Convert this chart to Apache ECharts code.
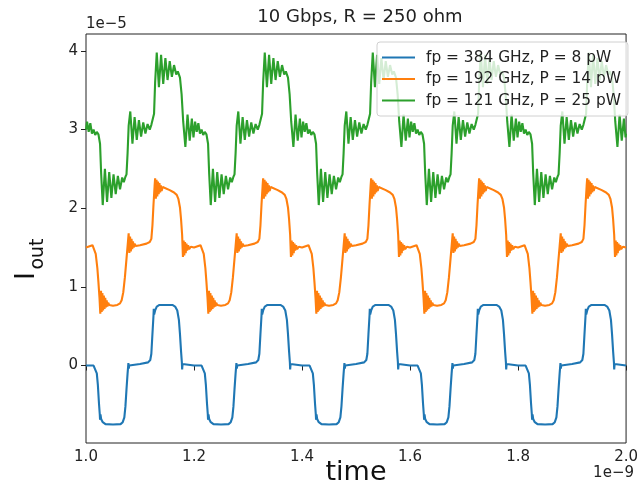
<!DOCTYPE html>
<html><head><meta charset="utf-8">
<script src="https://cdn.jsdelivr.net/npm/echarts@6/dist/echarts.min.js"></script>
<style>html,body{margin:0;padding:0;background:#fff}#c{width:641px;height:494px}</style>
</head><body><div id="c"></div>
<script>
const chartTitle = '10 Gbps, R = 250 ohm';
const seriesNames = ['fp = 384 GHz, P = 8 pW', 'fp = 192 GHz, P = 14 pW', 'fp = 121 GHz, P = 25 pW'];
const xTicks = [1.0, 1.2, 1.4, 1.6, 1.8, 2.0];
const xTickLabels = ['1.0', '1.2', '1.4', '1.6', '1.8', '2.0'];
const yTicks = [0, 1, 2, 3, 4];
const yTickLabels = ['0', '1', '2', '3', '4'];
const xRange = [1.0, 2.0];
const yRange = [-0.985, 4.215];

// time in units of 1e-9 s, current in units of 1e-5
const blue = [
[1.000,0.00],[1.014,0.00],[1.017,-0.02],[1.020,-0.10],[1.022,-0.25],[1.024,-0.48],[1.0255,-0.62],[1.026,-0.69],[1.0268,-0.62],[1.028,-0.68],[1.031,-0.72],[1.036,-0.745],[1.050,-0.75],[1.064,-0.745],[1.068,-0.72],[1.071,-0.66],[1.073,-0.52],[1.075,-0.30],[1.077,-0.10],[1.0785,0.03],[1.0792,-0.04],[1.080,0.00],[1.082,0.01],[1.100,0.02],[1.115,0.04],[1.119,0.07],[1.121,0.15],[1.123,0.40],[1.125,0.64],[1.1255,0.72],[1.1262,0.65],[1.128,0.70],[1.131,0.75],[1.136,0.77],[1.160,0.77],[1.165,0.75],[1.169,0.70],[1.172,0.58],[1.174,0.40],[1.176,0.18],[1.1775,0.04],[1.178,-0.05],[1.1788,0.02],[1.181,0.00],
[1.200,0.00],[1.214,0.00],[1.217,-0.02],[1.220,-0.10],[1.222,-0.25],[1.224,-0.48],[1.2255,-0.62],[1.226,-0.69],[1.2268,-0.62],[1.228,-0.68],[1.231,-0.72],[1.236,-0.745],[1.250,-0.75],[1.264,-0.745],[1.268,-0.72],[1.271,-0.66],[1.273,-0.52],[1.275,-0.30],[1.277,-0.10],[1.2785,0.03],[1.2792,-0.04],[1.280,0.00],[1.282,0.01],[1.300,0.02],[1.315,0.04],[1.319,0.07],[1.321,0.15],[1.323,0.40],[1.325,0.64],[1.3255,0.72],[1.3262,0.65],[1.328,0.70],[1.331,0.75],[1.336,0.77],[1.360,0.77],[1.365,0.75],[1.369,0.70],[1.372,0.58],[1.374,0.40],[1.376,0.18],[1.3775,0.04],[1.378,-0.05],[1.3788,0.02],[1.381,0.00],
[1.400,0.00],[1.414,0.00],[1.417,-0.02],[1.420,-0.10],[1.422,-0.25],[1.424,-0.48],[1.4255,-0.62],[1.426,-0.69],[1.4268,-0.62],[1.428,-0.68],[1.431,-0.72],[1.436,-0.745],[1.450,-0.75],[1.464,-0.745],[1.468,-0.72],[1.471,-0.66],[1.473,-0.52],[1.475,-0.30],[1.477,-0.10],[1.4785,0.03],[1.4792,-0.04],[1.480,0.00],[1.482,0.01],[1.500,0.02],[1.515,0.04],[1.519,0.07],[1.521,0.15],[1.523,0.40],[1.525,0.64],[1.5255,0.72],[1.5262,0.65],[1.528,0.70],[1.531,0.75],[1.536,0.77],[1.560,0.77],[1.565,0.75],[1.569,0.70],[1.572,0.58],[1.574,0.40],[1.576,0.18],[1.5775,0.04],[1.578,-0.05],[1.5788,0.02],[1.581,0.00],
[1.600,0.00],[1.614,0.00],[1.617,-0.02],[1.620,-0.10],[1.622,-0.25],[1.624,-0.48],[1.6255,-0.62],[1.626,-0.69],[1.6268,-0.62],[1.628,-0.68],[1.631,-0.72],[1.636,-0.745],[1.650,-0.75],[1.664,-0.745],[1.668,-0.72],[1.671,-0.66],[1.673,-0.52],[1.675,-0.30],[1.677,-0.10],[1.6785,0.03],[1.6792,-0.04],[1.680,0.00],[1.682,0.01],[1.700,0.02],[1.715,0.04],[1.719,0.07],[1.721,0.15],[1.723,0.40],[1.725,0.64],[1.7255,0.72],[1.7262,0.65],[1.728,0.70],[1.731,0.75],[1.736,0.77],[1.760,0.77],[1.765,0.75],[1.769,0.70],[1.772,0.58],[1.774,0.40],[1.776,0.18],[1.7775,0.04],[1.778,-0.05],[1.7788,0.02],[1.781,0.00],
[1.800,0.00],[1.814,0.00],[1.817,-0.02],[1.820,-0.10],[1.822,-0.25],[1.824,-0.48],[1.8255,-0.62],[1.826,-0.69],[1.8268,-0.62],[1.828,-0.68],[1.831,-0.72],[1.836,-0.745],[1.850,-0.75],[1.864,-0.745],[1.868,-0.72],[1.871,-0.66],[1.873,-0.52],[1.875,-0.30],[1.877,-0.10],[1.8785,0.03],[1.8792,-0.04],[1.880,0.00],[1.882,0.01],[1.900,0.02],[1.915,0.04],[1.919,0.07],[1.921,0.15],[1.923,0.40],[1.925,0.64],[1.9255,0.72],[1.9262,0.65],[1.928,0.70],[1.931,0.75],[1.936,0.77],[1.960,0.77],[1.965,0.75],[1.969,0.70],[1.972,0.58],[1.974,0.40],[1.976,0.18],[1.9775,0.04],[1.978,-0.05],[1.9788,0.02],[1.981,0.00],[2.000,0.00]
];

const orange = [
[1.000,1.50],[1.004,1.51],[1.012,1.53],[1.015,1.51],[1.018,1.42],[1.021,1.24],[1.023,1.06],[1.025,0.86],[1.0265,0.66],[1.0278,0.95],[1.029,0.68],[1.0303,0.92],[1.0316,0.70],[1.033,0.89],[1.0343,0.72],[1.0356,0.86],[1.037,0.74],[1.0383,0.83],[1.0396,0.75],[1.041,0.80],[1.043,0.77],[1.050,0.76],[1.058,0.77],[1.063,0.79],[1.066,0.83],[1.069,0.93],[1.072,1.12],[1.075,1.36],[1.077,1.52],[1.079,1.68],[1.0803,1.43],[1.0816,1.64],[1.083,1.45],[1.0843,1.61],[1.0856,1.48],[1.087,1.58],[1.0883,1.50],[1.090,1.55],[1.092,1.52],[1.100,1.53],[1.112,1.55],[1.118,1.57],[1.121,1.61],[1.123,1.78],[1.125,2.05],[1.127,2.28],[1.128,2.38],[1.1293,2.12],[1.1306,2.36],[1.132,2.15],[1.1333,2.34],[1.1346,2.18],[1.136,2.32],[1.1373,2.20],[1.1386,2.29],[1.140,2.22],[1.142,2.27],[1.145,2.25],[1.155,2.23],[1.163,2.20],[1.168,2.17],[1.171,2.12],[1.174,2.01],[1.176,1.86],[1.178,1.66],[1.1795,1.38],[1.1808,1.59],[1.182,1.40],[1.1833,1.57],[1.1846,1.43],[1.186,1.55],[1.1873,1.46],[1.189,1.53],[1.191,1.48],[1.194,1.51],
[1.200,1.50],[1.204,1.51],[1.212,1.53],[1.215,1.51],[1.218,1.42],[1.221,1.24],[1.223,1.06],[1.225,0.86],[1.2265,0.66],[1.2278,0.95],[1.229,0.68],[1.2303,0.92],[1.2316,0.70],[1.233,0.89],[1.2343,0.72],[1.2356,0.86],[1.237,0.74],[1.2383,0.83],[1.2396,0.75],[1.241,0.80],[1.243,0.77],[1.250,0.76],[1.258,0.77],[1.263,0.79],[1.266,0.83],[1.269,0.93],[1.272,1.12],[1.275,1.36],[1.277,1.52],[1.279,1.68],[1.2803,1.43],[1.2816,1.64],[1.283,1.45],[1.2843,1.61],[1.2856,1.48],[1.287,1.58],[1.2883,1.50],[1.290,1.55],[1.292,1.52],[1.300,1.53],[1.312,1.55],[1.318,1.57],[1.321,1.61],[1.323,1.78],[1.325,2.05],[1.327,2.28],[1.328,2.38],[1.3293,2.12],[1.3306,2.36],[1.332,2.15],[1.3333,2.34],[1.3346,2.18],[1.336,2.32],[1.3373,2.20],[1.3386,2.29],[1.340,2.22],[1.342,2.27],[1.345,2.25],[1.355,2.23],[1.363,2.20],[1.368,2.17],[1.371,2.12],[1.374,2.01],[1.376,1.86],[1.378,1.66],[1.3795,1.38],[1.3808,1.59],[1.382,1.40],[1.3833,1.57],[1.3846,1.43],[1.386,1.55],[1.3873,1.46],[1.389,1.53],[1.391,1.48],[1.394,1.51],
[1.400,1.50],[1.404,1.51],[1.412,1.53],[1.415,1.51],[1.418,1.42],[1.421,1.24],[1.423,1.06],[1.425,0.86],[1.4265,0.66],[1.4278,0.95],[1.429,0.68],[1.4303,0.92],[1.4316,0.70],[1.433,0.89],[1.4343,0.72],[1.4356,0.86],[1.437,0.74],[1.4383,0.83],[1.4396,0.75],[1.441,0.80],[1.443,0.77],[1.450,0.76],[1.458,0.77],[1.463,0.79],[1.466,0.83],[1.469,0.93],[1.472,1.12],[1.475,1.36],[1.477,1.52],[1.479,1.68],[1.4803,1.43],[1.4816,1.64],[1.483,1.45],[1.4843,1.61],[1.4856,1.48],[1.487,1.58],[1.4883,1.50],[1.490,1.55],[1.492,1.52],[1.500,1.53],[1.512,1.55],[1.518,1.57],[1.521,1.61],[1.523,1.78],[1.525,2.05],[1.527,2.28],[1.528,2.38],[1.5293,2.12],[1.5306,2.36],[1.532,2.15],[1.5333,2.34],[1.5346,2.18],[1.536,2.32],[1.5373,2.20],[1.5386,2.29],[1.540,2.22],[1.542,2.27],[1.545,2.25],[1.555,2.23],[1.563,2.20],[1.568,2.17],[1.571,2.12],[1.574,2.01],[1.576,1.86],[1.578,1.66],[1.5795,1.38],[1.5808,1.59],[1.582,1.40],[1.5833,1.57],[1.5846,1.43],[1.586,1.55],[1.5873,1.46],[1.589,1.53],[1.591,1.48],[1.594,1.51],
[1.600,1.50],[1.604,1.51],[1.612,1.53],[1.615,1.51],[1.618,1.42],[1.621,1.24],[1.623,1.06],[1.625,0.86],[1.6265,0.66],[1.6278,0.95],[1.629,0.68],[1.6303,0.92],[1.6316,0.70],[1.633,0.89],[1.6343,0.72],[1.6356,0.86],[1.637,0.74],[1.6383,0.83],[1.6396,0.75],[1.641,0.80],[1.643,0.77],[1.650,0.76],[1.658,0.77],[1.663,0.79],[1.666,0.83],[1.669,0.93],[1.672,1.12],[1.675,1.36],[1.677,1.52],[1.679,1.68],[1.6803,1.43],[1.6816,1.64],[1.683,1.45],[1.6843,1.61],[1.6856,1.48],[1.687,1.58],[1.6883,1.50],[1.690,1.55],[1.692,1.52],[1.700,1.53],[1.712,1.55],[1.718,1.57],[1.721,1.61],[1.723,1.78],[1.725,2.05],[1.727,2.28],[1.728,2.38],[1.7293,2.12],[1.7306,2.36],[1.732,2.15],[1.7333,2.34],[1.7346,2.18],[1.736,2.32],[1.7373,2.20],[1.7386,2.29],[1.740,2.22],[1.742,2.27],[1.745,2.25],[1.755,2.23],[1.763,2.20],[1.768,2.17],[1.771,2.12],[1.774,2.01],[1.776,1.86],[1.778,1.66],[1.7795,1.38],[1.7808,1.59],[1.782,1.40],[1.7833,1.57],[1.7846,1.43],[1.786,1.55],[1.7873,1.46],[1.789,1.53],[1.791,1.48],[1.794,1.51],
[1.800,1.50],[1.804,1.51],[1.812,1.53],[1.815,1.51],[1.818,1.42],[1.821,1.24],[1.823,1.06],[1.825,0.86],[1.8265,0.66],[1.8278,0.95],[1.829,0.68],[1.8303,0.92],[1.8316,0.70],[1.833,0.89],[1.8343,0.72],[1.8356,0.86],[1.837,0.74],[1.8383,0.83],[1.8396,0.75],[1.841,0.80],[1.843,0.77],[1.850,0.76],[1.858,0.77],[1.863,0.79],[1.866,0.83],[1.869,0.93],[1.872,1.12],[1.875,1.36],[1.877,1.52],[1.879,1.68],[1.8803,1.43],[1.8816,1.64],[1.883,1.45],[1.8843,1.61],[1.8856,1.48],[1.887,1.58],[1.8883,1.50],[1.890,1.55],[1.892,1.52],[1.900,1.53],[1.912,1.55],[1.918,1.57],[1.921,1.61],[1.923,1.78],[1.925,2.05],[1.927,2.28],[1.928,2.38],[1.9293,2.12],[1.9306,2.36],[1.932,2.15],[1.9333,2.34],[1.9346,2.18],[1.936,2.32],[1.9373,2.20],[1.9386,2.29],[1.940,2.22],[1.942,2.27],[1.945,2.25],[1.955,2.23],[1.963,2.20],[1.968,2.17],[1.971,2.12],[1.974,2.01],[1.976,1.86],[1.978,1.66],[1.9795,1.38],[1.9808,1.59],[1.982,1.40],[1.9833,1.57],[1.9846,1.43],[1.986,1.55],[1.9873,1.46],[1.989,1.53],[1.991,1.48],[1.994,1.51],[2.000,1.50]
];

const green = [
[1.000,3.00],[1.002,3.10],[1.005,2.97],[1.008,3.08],[1.011,2.95],[1.014,3.00],[1.017,2.93],[1.020,2.97],[1.023,2.94],[1.026,2.82],[1.028,2.45],[1.031,2.04],[1.035,2.50],[1.039,2.08],[1.043,2.46],[1.047,2.13],[1.051,2.43],[1.055,2.18],[1.059,2.41],[1.063,2.24],[1.067,2.39],[1.070,2.33],[1.073,2.40],[1.075,2.43],[1.077,2.70],[1.079,3.05],[1.082,3.23],[1.086,2.82],[1.090,3.16],[1.094,2.87],[1.098,3.12],[1.102,2.91],[1.106,3.09],[1.110,2.95],[1.114,3.07],[1.118,3.00],[1.121,3.06],[1.124,3.08],[1.126,3.20],[1.128,3.60],[1.131,3.98],[1.135,3.54],[1.139,3.95],[1.143,3.58],[1.147,3.91],[1.151,3.63],[1.155,3.87],[1.159,3.67],[1.163,3.82],[1.167,3.70],[1.170,3.74],[1.174,3.66],[1.177,3.45],[1.180,3.10],[1.184,2.78],[1.188,3.19],[1.192,2.86],[1.196,3.14],[1.199,2.90],
[1.202,3.10],[1.205,2.97],[1.208,3.08],[1.211,2.95],[1.214,3.00],[1.217,2.93],[1.220,2.97],[1.223,2.94],[1.226,2.82],[1.228,2.45],[1.231,2.04],[1.235,2.50],[1.239,2.08],[1.243,2.46],[1.247,2.13],[1.251,2.43],[1.255,2.18],[1.259,2.41],[1.263,2.24],[1.267,2.39],[1.270,2.33],[1.273,2.40],[1.275,2.43],[1.277,2.70],[1.279,3.05],[1.282,3.23],[1.286,2.82],[1.290,3.16],[1.294,2.87],[1.298,3.12],[1.302,2.91],[1.306,3.09],[1.310,2.95],[1.314,3.07],[1.318,3.00],[1.321,3.06],[1.324,3.08],[1.326,3.20],[1.328,3.60],[1.331,3.98],[1.335,3.54],[1.339,3.95],[1.343,3.58],[1.347,3.91],[1.351,3.63],[1.355,3.87],[1.359,3.67],[1.363,3.82],[1.367,3.70],[1.370,3.74],[1.374,3.66],[1.377,3.45],[1.380,3.10],[1.384,2.78],[1.388,3.19],[1.392,2.86],[1.396,3.14],[1.399,2.90],
[1.402,3.10],[1.405,2.97],[1.408,3.08],[1.411,2.95],[1.414,3.00],[1.417,2.93],[1.420,2.97],[1.423,2.94],[1.426,2.82],[1.428,2.45],[1.431,2.04],[1.435,2.50],[1.439,2.08],[1.443,2.46],[1.447,2.13],[1.451,2.43],[1.455,2.18],[1.459,2.41],[1.463,2.24],[1.467,2.39],[1.470,2.33],[1.473,2.40],[1.475,2.43],[1.477,2.70],[1.479,3.05],[1.482,3.23],[1.486,2.82],[1.490,3.16],[1.494,2.87],[1.498,3.12],[1.502,2.91],[1.506,3.09],[1.510,2.95],[1.514,3.07],[1.518,3.00],[1.521,3.06],[1.524,3.08],[1.526,3.20],[1.528,3.60],[1.531,3.98],[1.535,3.54],[1.539,3.95],[1.543,3.58],[1.547,3.91],[1.551,3.63],[1.555,3.87],[1.559,3.67],[1.563,3.82],[1.567,3.70],[1.570,3.74],[1.574,3.66],[1.577,3.45],[1.580,3.10],[1.584,2.78],[1.588,3.19],[1.592,2.86],[1.596,3.14],[1.599,2.90],
[1.602,3.10],[1.605,2.97],[1.608,3.08],[1.611,2.95],[1.614,3.00],[1.617,2.93],[1.620,2.97],[1.623,2.94],[1.626,2.82],[1.628,2.45],[1.631,2.04],[1.635,2.50],[1.639,2.08],[1.643,2.46],[1.647,2.13],[1.651,2.43],[1.655,2.18],[1.659,2.41],[1.663,2.24],[1.667,2.39],[1.670,2.33],[1.673,2.40],[1.675,2.43],[1.677,2.70],[1.679,3.05],[1.682,3.23],[1.686,2.82],[1.690,3.16],[1.694,2.87],[1.698,3.12],[1.702,2.91],[1.706,3.09],[1.710,2.95],[1.714,3.07],[1.718,3.00],[1.721,3.06],[1.724,3.08],[1.726,3.20],[1.728,3.60],[1.731,3.98],[1.735,3.54],[1.739,3.95],[1.743,3.58],[1.747,3.91],[1.751,3.63],[1.755,3.87],[1.759,3.67],[1.763,3.82],[1.767,3.70],[1.770,3.74],[1.774,3.66],[1.777,3.45],[1.780,3.10],[1.784,2.78],[1.788,3.19],[1.792,2.86],[1.796,3.14],[1.799,2.90],
[1.802,3.10],[1.805,2.97],[1.808,3.08],[1.811,2.95],[1.814,3.00],[1.817,2.93],[1.820,2.97],[1.823,2.94],[1.826,2.82],[1.828,2.45],[1.831,2.04],[1.835,2.50],[1.839,2.08],[1.843,2.46],[1.847,2.13],[1.851,2.43],[1.855,2.18],[1.859,2.41],[1.863,2.24],[1.867,2.39],[1.870,2.33],[1.873,2.40],[1.875,2.43],[1.877,2.70],[1.879,3.05],[1.882,3.23],[1.886,2.82],[1.890,3.16],[1.894,2.87],[1.898,3.12],[1.902,2.91],[1.906,3.09],[1.910,2.95],[1.914,3.07],[1.918,3.00],[1.921,3.06],[1.924,3.08],[1.926,3.20],[1.928,3.60],[1.931,3.98],[1.935,3.54],[1.939,3.95],[1.943,3.58],[1.947,3.91],[1.951,3.63],[1.955,3.87],[1.959,3.67],[1.963,3.82],[1.967,3.70],[1.970,3.74],[1.974,3.66],[1.977,3.45],[1.980,3.10],[1.984,2.78],[1.988,3.19],[1.992,2.86],[1.996,3.14],[1.999,2.90],[2.000,2.95]
];

const colors = ['#1f77b4', '#ff7f0e', '#2ca02c'];
const FONT = '"DejaVu Sans", sans-serif';

const chart = echarts.init(document.getElementById('c'), null, {renderer: 'canvas'});
const mkSeries = (name, data, color) => ({
  name, type: 'line', data, showSymbol: false, symbol: 'none', sampling: null,
  lineStyle: {color, width: 2.1}, itemStyle: {color}, animation: false, z: 2
});
chart.setOption({
  animation: false,
  backgroundColor: '#ffffff',
  color: colors,
  grid: {left: 86, right: 7, top: 34, bottom: 51, show: true, borderColor: '#222', borderWidth: 1, backgroundColor: 'transparent'},
  xAxis: {
    type: 'value', min: xRange[0], max: xRange[1],
    axisLine: {show: false}, splitLine: {show: false},
    axisTick: {show: true, inside: false, length: 5, lineStyle: {color: '#222', width: 1}, customValues: xTicks},
    axisLabel: {customValues: xTicks, margin: 7, color: '#222', fontFamily: FONT, fontSize: 15,
      formatter: v => xTickLabels[xTicks.indexOf(v)]}
  },
  yAxis: {
    type: 'value', min: yRange[0], max: yRange[1],
    axisLine: {show: false}, splitLine: {show: false},
    axisTick: {show: true, inside: false, length: 5, lineStyle: {color: '#222', width: 1}, customValues: yTicks},
    axisLabel: {customValues: yTicks, margin: 8, color: '#222', fontFamily: FONT, fontSize: 15,
      formatter: v => yTickLabels[yTicks.indexOf(v)]}
  },
  legend: {
    orient: 'vertical', left: 377, top: 42, z: 10,
    itemWidth: 33, itemHeight: 2, icon: 'rect', itemGap: 6.5,
    padding: [8, 7, 8, 5],
    backgroundColor: 'rgba(255,255,255,0.8)', borderColor: '#d0d0d0', borderWidth: 1, borderRadius: 3,
    textStyle: {fontFamily: FONT, fontSize: 15.4, color: '#222', padding: [0, 0, 0, 6]},
    data: seriesNames
  },
  graphic: [
    {type: 'text', x: 360, y: 17.5, z: 20, style: {text: chartTitle, font: '18px ' + FONT, fill: '#222', textAlign: 'center', textVerticalAlign: 'middle', align: 'center', verticalAlign: 'middle'}},
    {type: 'text', x: 86, y: 24.5, z: 20, style: {text: '1e\u22125', font: '15px ' + FONT, fill: '#222', textAlign: 'left', textVerticalAlign: 'middle', align: 'left', verticalAlign: 'middle'}},
    {type: 'text', x: 634, y: 473.5, z: 20, style: {text: '1e\u22129', font: '15px ' + FONT, fill: '#222', textAlign: 'right', textVerticalAlign: 'middle', align: 'right', verticalAlign: 'middle'}},
    {type: 'text', x: 356, y: 473, z: 20, style: {text: 'time', font: '27px ' + FONT, fill: '#111', textAlign: 'center', textVerticalAlign: 'middle', align: 'center', verticalAlign: 'middle'}},
    {type: 'text', x: 27, y: 276, rotation: Math.PI / 2, z: 20, style: {text: 'I', font: '27px ' + FONT, fill: '#111', textAlign: 'center', textVerticalAlign: 'middle', align: 'center', verticalAlign: 'middle'}},
    {type: 'text', x: 38, y: 254, rotation: Math.PI / 2, z: 20, style: {text: 'out', font: '19px ' + FONT, fill: '#111', textAlign: 'center', textVerticalAlign: 'middle', align: 'center', verticalAlign: 'middle'}}
  ],
  series: [
    mkSeries(seriesNames[0], blue, colors[0]),
    mkSeries(seriesNames[1], orange, colors[1]),
    mkSeries(seriesNames[2], green, colors[2])
  ]
});
</script></body></html>
